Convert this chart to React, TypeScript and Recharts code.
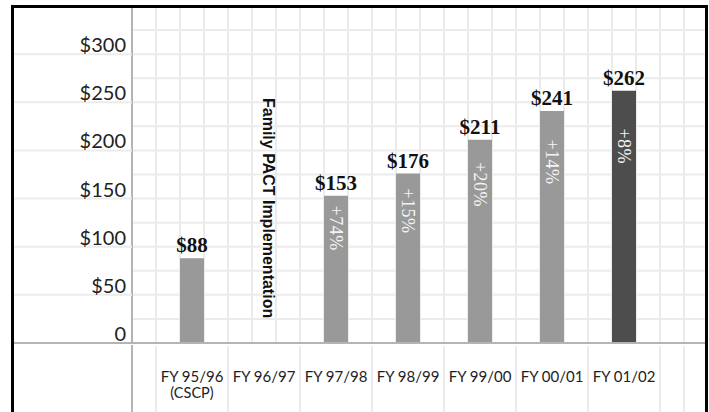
import { ComposedChart, Bar, Cell, XAxis, YAxis, CartesianGrid, LabelList, ReferenceLine } from 'recharts';

const years = ['FY 95/96', 'FY 96/97', 'FY 97/98', 'FY 98/99', 'FY 99/00', 'FY 00/01', 'FY 01/02'];
const subLabels = ['(CSCP)', '', '', '', '', '', ''];
const costs = [88, null, 153, 176, 211, 241, 262];
const changes = ['', '', '+74%', '+15%', '+20%', '+14%', '+8%'];
const yTicks = [0, 25, 50, 75, 100, 125, 150, 175, 200, 225, 250, 275, 300, 325];
const noteYear = 'FY 96/97';
const noteText = 'Family PACT Implementation';

const data = years.map((year, i) => ({ year, sub: subLabels[i], cost: costs[i], change: changes[i] }));

const W = 709;
const H = 412;
const FRAME_LEFT = 13;
const BAND = 72;
const GRID = 24;
const GRID_COLOR = '#ebebeb';
const AXIS_COLOR = '#b4b4b4';
const BAR = '#999999';
const BAR_LAST = '#4d4d4d';
const SANS = 'Lato, "Open Sans", sans-serif';
const SERIF = '"Liberation Serif", "DejaVu Serif", serif';

const verticalGrid = ({ offset }: any) => {
  const out: number[] = [];
  for (let x = offset.left + GRID; x < offset.left + offset.width - 1; x += GRID) out.push(x);
  return out;
};

function YTick({ x, y, payload }: any) {
  const v = payload.value;
  if (v % 50 !== 0) return null;
  return (
    <g>
      <line x1={FRAME_LEFT} x2={x + 6} y1={y} y2={y} stroke={v === 0 ? AXIS_COLOR : GRID_COLOR} strokeWidth={2} />
      <text x={x} y={y - 2} textAnchor="end" fontFamily={SANS} fontSize={20} fill="#222">
        {v === 0 ? '0' : `$${v}`}
      </text>
    </g>
  );
}

function XTick({ x, y, payload, index }: any) {
  const sub = subLabels[index];
  const last = index === years.length - 1;
  return (
    <g>
      {index === 0 && <line x1={x - BAND / 2 - GRID} x2={x - BAND / 2 - GRID} y1={y} y2={H} stroke={AXIS_COLOR} strokeWidth={2} />}
      <line x1={x - BAND / 2} x2={x - BAND / 2} y1={y + 1} y2={H} stroke={GRID_COLOR} strokeWidth={2} />
      {last && <line x1={x + BAND / 2} x2={x + BAND / 2} y1={y + 1} y2={H} stroke={GRID_COLOR} strokeWidth={2} />}
      {last && <line x1={x + BAND / 2 + GRID} x2={x + BAND / 2 + GRID} y1={y + 1} y2={H} stroke={GRID_COLOR} strokeWidth={2} />}
      <text x={x} y={y + 37} textAnchor="middle" fontFamily={SANS} fontSize={15} fill="#222">
        {payload.value}
      </text>
      {sub && (
        <text x={x} y={y + 53} textAnchor="middle" fontFamily={SANS} fontSize={14.5} fill="#222">
          {sub}
        </text>
      )}
    </g>
  );
}

function CostLabel({ x, y, width, value }: any) {
  if (value == null) return null;
  return (
    <text x={x + width / 2} y={y - 6} textAnchor="middle" fontFamily={SERIF} fontWeight="bold" fontSize={21} fill="#111">
      {`$${value}`}
    </text>
  );
}

function ChangeLabel({ x, y, width, height, value }: any) {
  if (!value) return null;
  const cx = x + width / 2;
  const cy = y + height * 0.22;
  return (
    <text
      x={cx}
      y={cy}
      textAnchor="middle"
      dominantBaseline="central"
      transform={`rotate(90, ${cx}, ${cy})`}
      fontFamily={SERIF}
      fontSize={18}
      letterSpacing={0.5}
      fill="#f4f4f4"
    >
      {value}
    </text>
  );
}

function NoteLabel({ viewBox }: any) {
  const x = viewBox.x - 1;
  const y = viewBox.y + 92;
  return (
    <text x={x} y={y} transform={`rotate(90, ${x}, ${y})`} fontFamily='"Liberation Sans", Arial, sans-serif' fontWeight="bold" fontSize={16} fill="#111">
      {noteText}
    </text>
  );
}

export default function App() {
  return (
    <div style={{ position: 'absolute', left: 0, top: 0, width: W, height: H, background: '#fff', overflow: 'hidden' }}>
      <ComposedChart width={W} height={H} data={data} margin={{ top: 6, right: 1, bottom: 0, left: FRAME_LEFT }}>
        <CartesianGrid stroke={GRID_COLOR} strokeWidth={2} verticalCoordinatesGenerator={verticalGrid} />
        <XAxis
          dataKey="year"
          interval={0}
          height={69}
          padding={{ left: 24, right: 48 }}
          tickLine={false}
          tickSize={0}
          axisLine={{ stroke: AXIS_COLOR, strokeWidth: 2 }}
          tick={<XTick />}
        />
        <YAxis
          domain={[0, 350]}
          ticks={yTicks}
          interval={0}
          width={119}
          tickLine={false}
          tickSize={0}
          tickMargin={6}
          axisLine={{ stroke: AXIS_COLOR, strokeWidth: 2 }}
          tick={<YTick />}
        />
        <ReferenceLine x={noteYear} stroke="none" label={<NoteLabel />} />
        <Bar dataKey="cost" barSize={24} isAnimationActive={false}>
          {data.map((d, i) => (
            <Cell key={d.year} fill={i === data.length - 1 ? BAR_LAST : BAR} />
          ))}
          <LabelList dataKey="cost" content={<CostLabel />} />
          <LabelList dataKey="change" content={<ChangeLabel />} />
        </Bar>
      </ComposedChart>
      <div
        style={{
          position: 'absolute',
          left: 11,
          top: 5,
          width: W - 11 - 1,
          height: H,
          boxSizing: 'border-box',
          borderTop: '3px solid #000',
          borderLeft: '3px solid #000',
          borderRight: '3px solid #000',
          pointerEvents: 'none',
        }}
      />
    </div>
  );
}
